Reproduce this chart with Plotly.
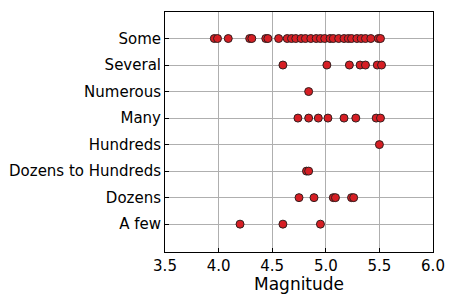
import plotly.graph_objects as go

categories = ["A few", "Dozens", "Dozens to Hundreds", "Hundreds", "Many", "Numerous", "Several", "Some"]

some_vals = [3.96, 3.99, 4.09, 4.29, 4.31, 4.44, 4.46, 4.56, 4.64, 4.68, 4.72, 4.77, 4.81,
             4.86, 4.91, 4.95, 4.99, 5.04, 5.07, 5.12, 5.17, 5.21, 5.24, 5.29, 5.33, 5.37,
             5.42, 5.49, 5.51]
several_vals = [4.60, 5.01, 5.22, 5.32, 5.37, 5.48, 5.52]
numerous_vals = [4.84]
many_vals = [4.74, 4.84, 4.93, 5.02, 5.17, 5.28, 5.47, 5.51]
hundreds_vals = [5.50]
dozens_to_hundreds_vals = [4.82, 4.84]
dozens_vals = [4.75, 4.89, 5.07, 5.09, 5.24, 5.26]
a_few_vals = [4.20, 4.60, 4.95]
x_title = "Magnitude"

groups = {
    "A few": a_few_vals,
    "Dozens": dozens_vals,
    "Dozens to Hundreds": dozens_to_hundreds_vals,
    "Hundreds": hundreds_vals,
    "Many": many_vals,
    "Numerous": numerous_vals,
    "Several": several_vals,
    "Some": some_vals,
}

xs, ys = [], []
for cat in categories:
    for v in groups[cat]:
        xs.append(v)
        ys.append(categories.index(cat))

fig = go.Figure()
fig.add_trace(go.Scatter(
    x=xs, y=ys, mode="markers",
    marker=dict(size=8, color="rgb(214,30,36)", line=dict(color="rgb(50,30,30)", width=1)),
    showlegend=False,
))

font_family = "DejaVu Sans"
fig.update_layout(
    width=451, height=294,
    margin=dict(l=165, r=18, t=12, b=42),
    plot_bgcolor="white", paper_bgcolor="white",
    font=dict(family=font_family, size=15, color="black"),
    xaxis=dict(
        range=[3.5, 6.0], tickvals=[3.5, 4.0, 4.5, 5.0, 5.5, 6.0],
        ticktext=["3.5", "4.0", "4.5", "5.0", "5.5", "6.0"],
        showgrid=True, gridcolor="rgb(175,175,175)", gridwidth=1,
        showline=True, linecolor="black", linewidth=1, mirror=True,
        ticks="inside", ticklen=4, tickcolor="black",
        zeroline=False, automargin=False,
        tickfont=dict(size=15),
    ),
    yaxis=dict(
        range=[-1.05, 8.0],
        tickvals=list(range(len(categories))), ticktext=categories,
        showgrid=True, gridcolor="rgb(175,175,175)", gridwidth=1,
        showline=True, linecolor="black", linewidth=1, mirror=True,
        ticks="inside", ticklen=4, tickcolor="black",
        zeroline=False, automargin=False,
        tickfont=dict(size=15),
    ),
    annotations=[dict(
        text=x_title, xref="paper", yref="paper", x=0.5, y=0,
        xanchor="center", yanchor="top", yshift=-21, showarrow=False,
        borderpad=0,
        font=dict(size=17, family=font_family, color="black"),
    )],
)

fig.write_html("out.html", config={"displayModeBar": False},
               post_script="document.body.style.margin='0px';")
